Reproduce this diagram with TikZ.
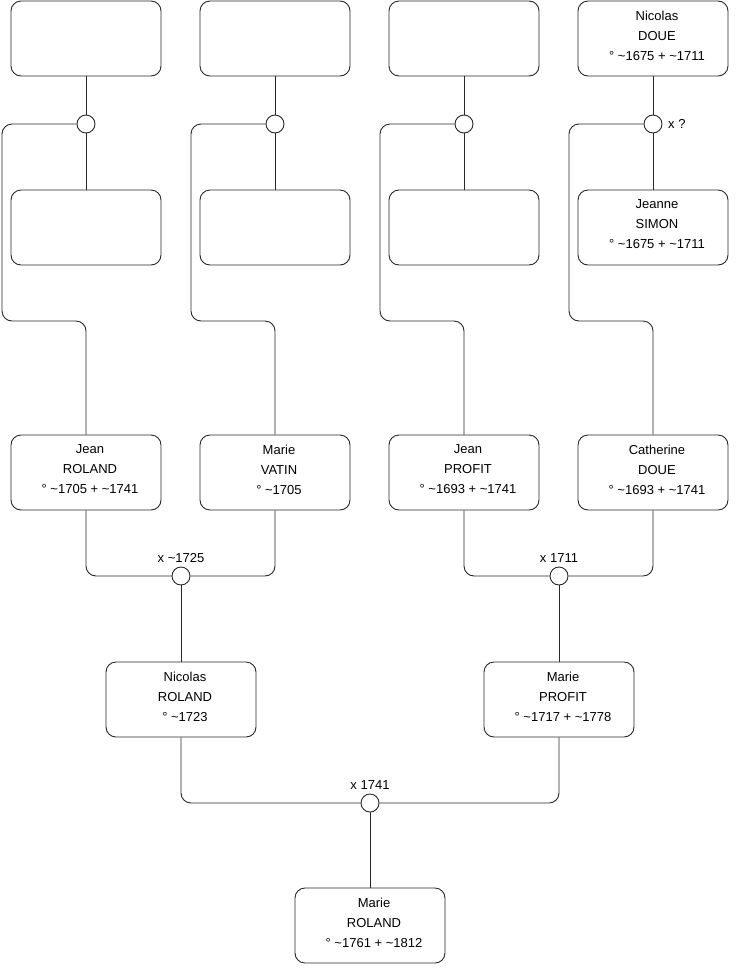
\documentclass[tikz,border=0pt]{standalone}
\usepackage{fontspec}
\setmainfont{Liberation Sans}
\usepackage{tikz}
\usetikzlibrary{calc}
\definecolor{boxline}{RGB}{40, 40, 40}

\tikzset{
  info/.style={align=center, inner sep=0pt, text depth=6pt, xshift=4pt,
    font=\fontsize{13}{20}\selectfont},
  person/.style={draw=boxline, line width=0.9pt, rounded corners=10pt, fill=white,
    minimum width=150pt, minimum height=75pt, inner sep=0pt,
    label={[info]center:#1}},
  person/.default={},
  union/.style={circle, draw=boxline, line width=0.9pt, fill=white,
    minimum size=18pt, inner sep=0pt},
  link/.style={draw=boxline, line width=0.9pt, rounded corners=10pt},
  year/.style={font=\fontsize{13}{15}\selectfont, inner sep=3.5pt}
}

\begin{document}
\begin{tikzpicture}[x=1pt, y=-1pt]
  \useasboundingbox (0,0) rectangle (740,975);

  % Row 1 (fathers of the grandparents)
  \node[person] (A1) at (86,38.5) {};
  \node[person] (A2) at (275,38.5) {};
  \node[person] (A3) at (464,38.5) {};
  \node[person={Nicolas\\DOUE\\° \textasciitilde1675 + \textasciitilde1711}] (A4) at (653,38.5) {};

  % Row 2 (mothers)
  \node[person] (B1) at (86,227.5) {};
  \node[person] (B2) at (275,227.5) {};
  \node[person] (B3) at (464,227.5) {};
  \node[person={Jeanne\\SIMON\\° \textasciitilde1675 + \textasciitilde1711}] (B4) at (653,227.5) {};

  % Unions of row 1 and row 2
  \node[union] (uA1) at (86,124) {};
  \node[union] (uA2) at (275,124) {};
  \node[union] (uA3) at (464,124) {};
  \node[union, label={[year, xshift=2pt]right:x ?}] (uA4) at (653,124) {};

  % Row 3 (grandparents)
  \node[person={Jean\\ROLAND\\° \textasciitilde1705 + \textasciitilde1741}] (C1) at (86,472.5) {};
  \node[person={Marie\\VATIN\\° \textasciitilde1705}] (C2) at (275,472.5) {};
  \node[person={Jean\\PROFIT\\° \textasciitilde1693 + \textasciitilde1741}] (C3) at (464,472.5) {};
  \node[person={Catherine\\DOUE\\° \textasciitilde1693 + \textasciitilde1741}] (C4) at (653,472.5) {};

  \node[union, label={[year]above:x \textasciitilde1725}] (uC1) at (181,576) {};
  \node[union, label={[year]above:x 1711}] (uC2) at (559,576) {};

  % Row 4 (parents)
  \node[person={Nicolas\\ROLAND\\° \textasciitilde1723}] (D1) at (181,699.5) {};
  \node[person={Marie\\PROFIT\\° \textasciitilde1717 + \textasciitilde1778}] (D2) at (559,699.5) {};

  \node[union, label={[year]above:x 1741}] (uD) at (370,803) {};

  % Row 5
  \node[person={Marie\\ROLAND\\° \textasciitilde1761 + \textasciitilde1812}] (E) at (370,925.5) {};

  % Bends of the long links
  \coordinate (k1) at (2,321);
  \coordinate (k2) at (191,321);
  \coordinate (k3) at (380,321);
  \coordinate (k4) at (569,321);

  % Couples of rows 1 and 2
  \foreach \i in {1,...,4} {
    \draw[link] (A\i.south) -- (uA\i.north);
    \draw[link] (uA\i.south) -- (B\i.north);
    \draw[link] (uA\i.west) -| (k\i) -| (C\i.north);
  }

  % Couples of row 3
  \draw[link] (C1.south) |- (uC1.west);
  \draw[link] (C2.south) |- (uC1.east);
  \draw[link] (uC1.south) -- (D1.north);
  \draw[link] (C3.south) |- (uC2.west);
  \draw[link] (C4.south) |- (uC2.east);
  \draw[link] (uC2.south) -- (D2.north);

  % Couple of row 4
  \draw[link] (D1.south) |- (uD.west);
  \draw[link] (D2.south) |- (uD.east);
  \draw[link] (uD.south) -- (E.north);
\end{tikzpicture}
\end{document}
